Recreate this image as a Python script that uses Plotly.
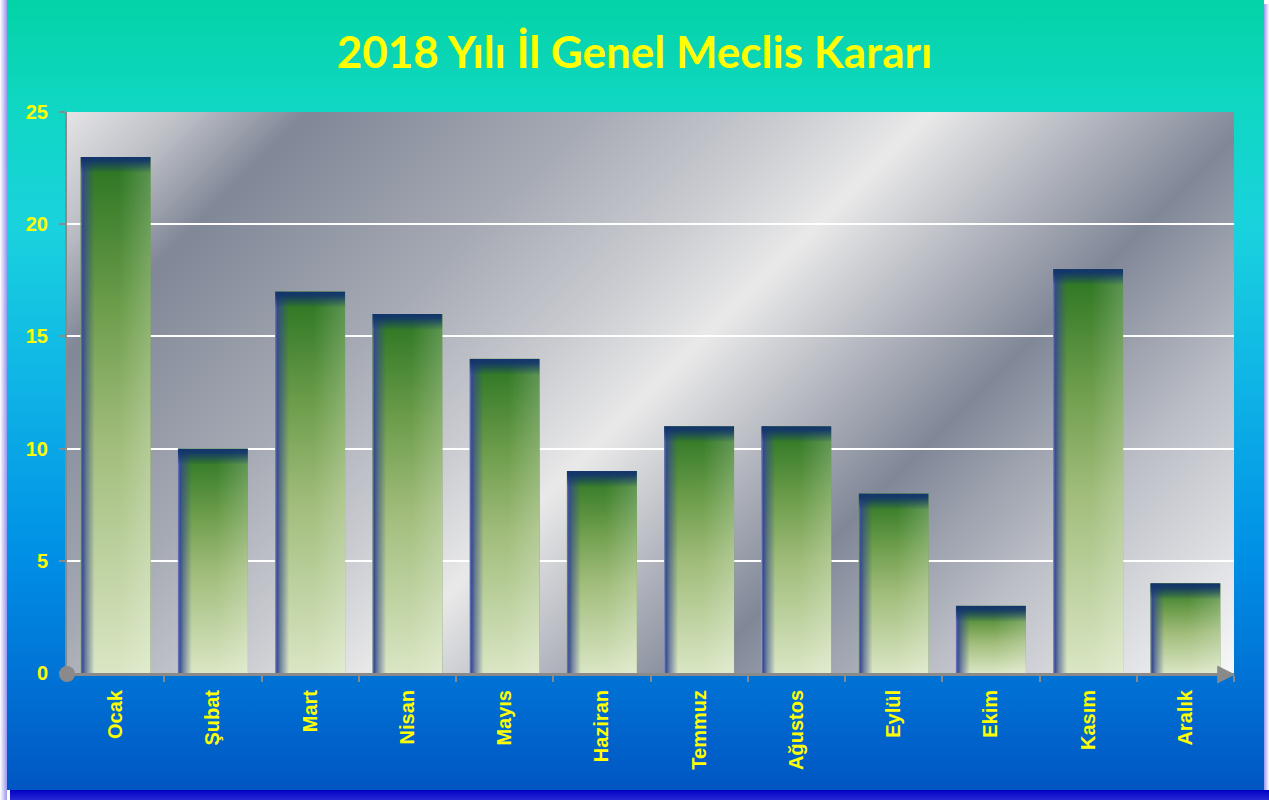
import base64
import plotly.graph_objects as go

# ---------------- data ----------------
months = ["Ocak", "Şubat", "Mart", "Nisan", "Mayıs", "Haziran",
          "Temmuz", "Ağustos", "Eylül", "Ekim", "Kasım", "Aralık"]
values = [23, 10, 17, 16, 14, 9, 11, 11, 8, 3, 18, 4]
y_ticks = [0, 5, 10, 15, 20, 25]
title_text = "2018 Yılı İl Genel Meclis Kararı"

# ---------------- layout geometry ----------------
W, H = 1269, 800
ML, MR, MT, MB = 67, 35, 112, 127
PW, PH = W - ML - MR, H - MT - MB
BAR_W = 0.72
YELLOW = "#FFFF00"
AXIS_GREY = "#8A8A8A"


def svg_uri(svg):
    return "data:image/svg+xml;base64," + base64.b64encode(svg.encode("utf-8")).decode()


bg_svg = f'''<svg xmlns="http://www.w3.org/2000/svg" width="{W}" height="{H}" viewBox="0 0 {W} {H}" preserveAspectRatio="none">
<defs>
<linearGradient id="g" x1="0" y1="0" x2="0" y2="1">
<stop offset="0" stop-color="#03D3A6"/>
<stop offset="0.14" stop-color="#10D7C4"/>
<stop offset="0.29" stop-color="#1AD2DE"/>
<stop offset="0.5" stop-color="#0EB2E6"/>
<stop offset="0.7" stop-color="#0090E6"/>
<stop offset="0.85" stop-color="#0074D6"/>
<stop offset="1" stop-color="#0056C2"/>
</linearGradient>
<linearGradient id="ls" x1="0" y1="0" x2="1" y2="0">
<stop offset="0" stop-color="#FFFFFF"/><stop offset="1" stop-color="#9A96EE"/>
</linearGradient>
<linearGradient id="rs" x1="0" y1="0" x2="1" y2="0">
<stop offset="0" stop-color="#9A96EE"/><stop offset="1" stop-color="#FFFFFF"/>
</linearGradient>
<linearGradient id="bs" x1="0" y1="0" x2="0" y2="1">
<stop offset="0" stop-color="#0000C4"/><stop offset="1" stop-color="#2828D8"/>
</linearGradient>
</defs>
<rect width="{W}" height="{H}" fill="#FFFFFF"/>
<rect x="0" y="0" width="7" height="{H}" fill="url(#ls)"/>
<rect x="1264" y="4" width="5" height="{H}" fill="url(#rs)"/>
<rect x="10" y="790" width="{W - 10}" height="10" fill="url(#bs)"/>
<rect x="7" y="0" width="1257" height="790" fill="url(#g)"/>
</svg>'''

metal_svg = f'''<svg xmlns="http://www.w3.org/2000/svg" width="{PW}" height="{PH}" viewBox="0 0 {PW} {PH}" preserveAspectRatio="none">
<defs>
<linearGradient id="m" gradientUnits="userSpaceOnUse" x1="0" y1="0" x2="{(PW + PH) / 2}" y2="{(PW + PH) / 2}">
<stop offset="0" stop-color="#E4E4E6"/>
<stop offset="0.07" stop-color="#BDBFC6"/>
<stop offset="0.14" stop-color="#808797"/>
<stop offset="0.30" stop-color="#A5A9B3"/>
<stop offset="0.42" stop-color="#CACCD1"/>
<stop offset="0.50" stop-color="#E9E9E9"/>
<stop offset="0.60" stop-color="#B2B5BE"/>
<stop offset="0.69" stop-color="#808797"/>
<stop offset="0.82" stop-color="#BBBEC6"/>
<stop offset="1" stop-color="#F8F8F8"/>
</linearGradient>
</defs>
<rect width="{PW}" height="{PH}" fill="url(#m)"/>
</svg>'''


def bar_svg(v):
    f = 0.36 / v
    return f'''<svg xmlns="http://www.w3.org/2000/svg" width="100" height="100" viewBox="0 0 100 100" preserveAspectRatio="none">
<defs>
<linearGradient id="gv" x1="0" y1="0" x2="0" y2="1">
<stop offset="0" stop-color="#2A7420"/>
<stop offset="0.3" stop-color="#6E9E4C"/>
<stop offset="0.55" stop-color="#A0BC7A"/>
<stop offset="1" stop-color="#DAE6C4"/>
</linearGradient>
<linearGradient id="gh" x1="0" y1="0" x2="1" y2="0">
<stop offset="0" stop-color="#7478C8" stop-opacity="1"/>
<stop offset="0.03" stop-color="#34488E" stop-opacity="0.95"/>
<stop offset="0.08" stop-color="#34488E" stop-opacity="0.6"/>
<stop offset="0.2" stop-color="#34488E" stop-opacity="0"/>
<stop offset="0.55" stop-color="#FFFFFF" stop-opacity="0"/>
<stop offset="1" stop-color="#FFFFFF" stop-opacity="0.2"/>
</linearGradient>
<linearGradient id="gt" x1="0" y1="0" x2="0" y2="1">
<stop offset="0" stop-color="#12346C" stop-opacity="1"/>
<stop offset="{f * 0.5:.4f}" stop-color="#12346C" stop-opacity="0.9"/>
<stop offset="{f * 2:.4f}" stop-color="#12346C" stop-opacity="0"/>
</linearGradient>
</defs>
<rect width="100" height="100" fill="url(#gv)"/>
<rect width="100" height="100" fill="url(#gh)"/>
<rect width="100" height="100" fill="url(#gt)"/>
</svg>'''


x_idx = list(range(len(months)))

fig = go.Figure()
fig.add_trace(go.Bar(
    x=x_idx, y=values, width=BAR_W,
    marker=dict(color="#7FA65A", line=dict(width=0)),
    hovertext=months, hoverinfo="text+y",
))

images = [
    dict(source=svg_uri(bg_svg), xref="paper", yref="paper",
         x=-ML / PW, y=1 + MT / PH, sizex=W / PW, sizey=H / PH,
         xanchor="left", yanchor="top", sizing="stretch", layer="below"),
    dict(source=svg_uri(metal_svg), xref="paper", yref="paper",
         x=0, y=1, sizex=1, sizey=1,
         xanchor="left", yanchor="top", sizing="stretch", layer="below"),
]
for i, v in zip(x_idx, values):
    images.append(dict(source=svg_uri(bar_svg(v)), xref="x", yref="y",
                       x=i, y=v, sizex=BAR_W, sizey=v,
                       xanchor="center", yanchor="top", sizing="stretch", layer="above"))

fig.update_layout(
    width=W, height=H,
    margin=dict(l=ML, r=MR, t=MT, b=MB, pad=0),
    paper_bgcolor="#FFFFFF",
    plot_bgcolor="rgba(0,0,0,0)",
    showlegend=False,
    bargap=1 - BAR_W,
    images=images,
    title=dict(text=title_text, x=0.5, xref="container", xanchor="center",
               y=1 - 53 / H, yref="container", yanchor="middle",
               font=dict(family="Lato", size=44, color=YELLOW, weight="bold")),
    xaxis=dict(
        range=[-0.5, len(months) - 0.5],
        tickmode="array", tickvals=x_idx, ticktext=months,
        tickangle=-90, ticks="", showgrid=False, zeroline=False,
        showline=True, linecolor=AXIS_GREY, linewidth=3,
        ticklabelstandoff=6,
        tickfont=dict(family="Liberation Sans", size=20, color=YELLOW, weight="bold"),
        minor=dict(tickmode="array", tickvals=[i + 0.5 for i in x_idx],
                   ticks="outside", ticklen=6, tickwidth=2, tickcolor=AXIS_GREY,
                   showgrid=False),
        fixedrange=True,
    ),
    yaxis=dict(
        range=[0, 25], tickmode="array", tickvals=y_ticks,
        ticks="outside", ticklen=6, tickwidth=2, tickcolor=AXIS_GREY,
        showgrid=True, gridcolor="#FFFFFF", gridwidth=2,
        zeroline=False, showline=True, linecolor=AXIS_GREY, linewidth=2,
        ticklabelstandoff=7,
        tickfont=dict(family="Liberation Sans", size=20, color=YELLOW, weight="bold"),
        fixedrange=True,
    ),
    shapes=[
        dict(type="circle", xref="paper", yref="paper", xsizemode="pixel", ysizemode="pixel",
             xanchor=0, yanchor=0, x0=-8, x1=8, y0=-9, y1=7,
             fillcolor=AXIS_GREY, line=dict(width=0), layer="above"),
    ],
    annotations=[
        dict(x=1.001, y=0, xref="paper", yref="paper", text="", showarrow=True,
             ax=-22, ay=0, arrowhead=2, arrowsize=1.2, arrowwidth=3,
             arrowcolor=AXIS_GREY, yshift=-1.5),
    ],
)

fig.write_html(
    "out.html",
    config={"displayModeBar": False},
    post_script="document.body.style.margin='0';document.body.style.overflow='hidden';",
)
